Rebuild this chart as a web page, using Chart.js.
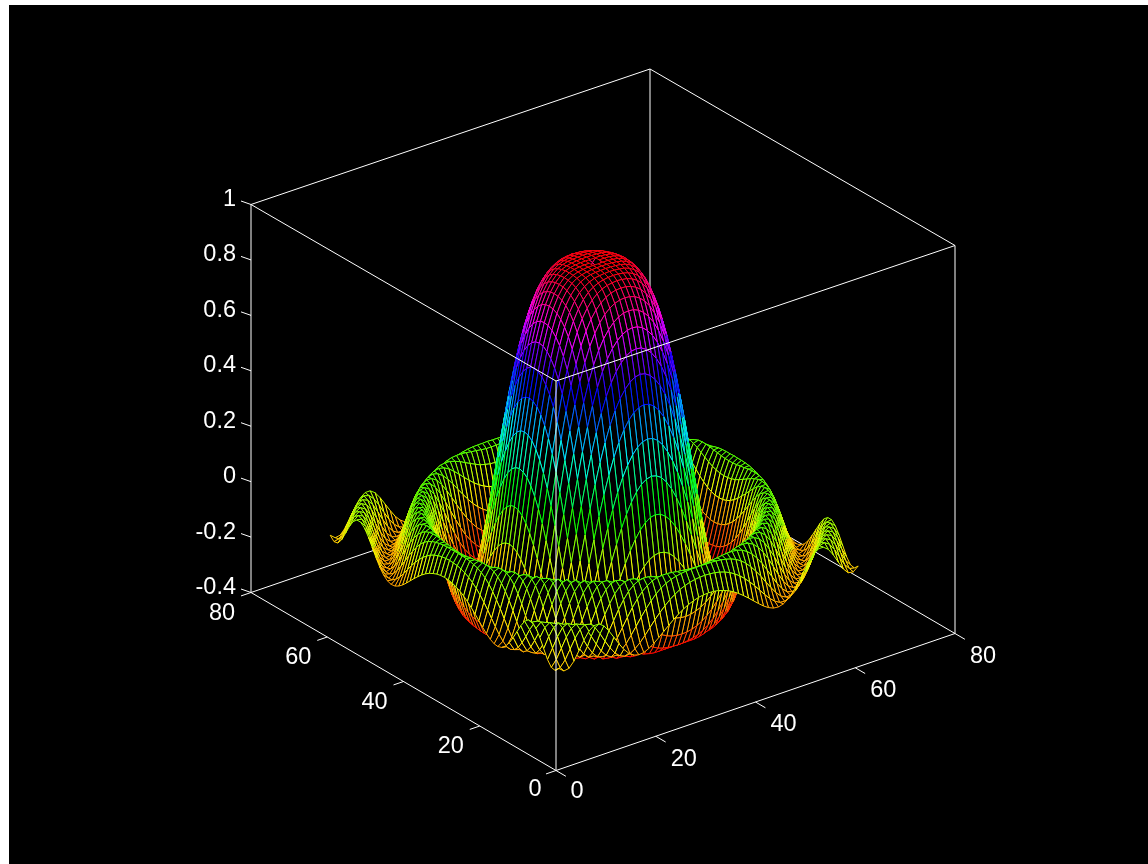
<!DOCTYPE html>
<html>
<head>
<meta charset="utf-8">
<title>mesh</title>
<script src="https://cdn.jsdelivr.net/npm/chart.js@4"></script>
<style>
    html, body { margin: 0; padding: 0; background: #fff; overflow: hidden; }
    #wrap { position: absolute; left: 9px; top: 5px; width: 1139px; height: 859px; background: #000; }
</style>
</head>
<body>
<div id="wrap"><canvas id="myChart" width="1139" height="859"></canvas></div>
<script>
// tick labels of the three axes
const xTicks = [0, 20, 40, 60, 80];
const yTicks = [0, 20, 40, 60, 80];
const zTicks = [-0.4, -0.2, 0, 0.2, 0.4, 0.6, 0.8, 1];
const zTickLabels = ['-0.4', '-0.2', '0', '0.2', '0.4', '0.6', '0.8', '1'];

// grid of the surface, first line nudged a bit to sit where the picture has it
const xFirst = 0.9;
const yFirst = 0.4;
const gridSize = 61;

// surface height in thousandths. The surface is round,
// so only one eighth is kept: row = steps from the centre, column = steps across.
// null is the small hole on top of the dome
const heightRows = [
    [null],
    [1000, 1000],
    [1000, 1000, 999],
    [999, 998, 997, 995],
    [996, 995, 993, 990, 983],
    [990, 989, 986, 981, 972, 959],
    [979, 977, 974, 967, 956, 939, 916],
    [960, 959, 954, 945, 931, 911, 884, 847],
    [933, 931, 925, 914, 897, 873, 841, 800, 748],
    [894, 892, 884, 870, 850, 823, 787, 741, 685, 617],
    [841, 838, 829, 813, 790, 759, 719, 669, 608, 537, 455],
    [773, 770, 759, 741, 715, 681, 637, 583, 520, 446, 363, 273],
    [689, 685, 673, 653, 625, 588, 541, 485, 420, 346, 265, 178, 90],
    [588, 583, 571, 550, 520, 481, 433, 376, 311, 239, 162, 82, 4, -70],
    [472, 468, 455, 433, 402, 363, 316, 260, 198, 131, 61, -9, -75, -133, -179],
    [346, 341, 329, 307, 277, 239, 194, 142, 86, 27, -33, -91, -141, -182, -208, -217],
    [215, 211, 198, 178, 150, 115, 75, 30, -18, -67, -114, -156, -189, -211, -217, -207, -179],
    [86, 82, 72, 54, 30, 1, -33, -70, -107, -143, -175, -200, -214, -216, -204, -177, -136, -83],
    [-30, -33, -42, -56, -75, -98, -123, -149, -173, -194, -210, -217, -214, -198, -170, -130, -80, -25, 30],
    [-125, -127, -133, -143, -156, -171, -186, -200, -211, -217, -216, -206, -187, -157, -117, -70, -18, 33, 78, 112],
    [-189, -190, -194, -199, -205, -211, -215, -217, -215, -207, -192, -169, -137, -98, -53, -5, 42, 83, 113, 128, 124],
    [-216, -217, -217, -217, -217, -214, -209, -201, -187, -167, -142, -110, -72, -30, 14, 55, 91, 116, 128, 123, 101, 64],
    [-205, -204, -202, -198, -192, -183, -170, -153, -131, -105, -73, -38, -1, 37, 73, 102, 121, 128, 121, 98, 62, 19, -26],
    [-158, -157, -153, -146, -136, -122, -105, -83, -58, -30, 1, 33, 64, 92, 114, 126, 127, 116, 91, 56, 14, -28, -64, -86],
    [-87, -85, -80, -72, -60, -45, -27, -5, 18, 43, 68, 91, 110, 123, 128, 123, 107, 81, 46, 6, -34, -67, -87, -90, -75],
    [-5, -4, 1, 9, 20, 33, 49, 65, 83, 99, 114, 124, 128, 125, 114, 94, 65, 31, -7, -43, -72, -89, -90, -74, -44, -5],
    [68, 69, 73, 78, 86, 95, 104, 114, 121, 127, 128, 125, 115, 98, 74, 45, 11, -23, -54, -78, -90, -88, -71, -41, -4, 33, 60],
    [116, 116, 118, 121, 123, 126, 128, 128, 126, 120, 109, 94, 73, 48, 19, -12, -42, -67, -85, -91, -85, -65, -35, 1, 36, 61, 71, 62],
    [128, 127, 127, 126, 124, 120, 115, 107, 96, 81, 62, 40, 16, -11, -37, -61, -80, -90, -90, -78, -56, -25, 9, 41, 63, 71, 61, 36, 2],
    [101, 100, 98, 94, 88, 80, 69, 56, 40, 22, 2, -20, -42, -62, -78, -89, -91, -84, -68, -43, -13, 20, 48, 66, 71, 59, 34, 1, -32, -53],
    [46, 45, 42, 36, 29, 19, 7, -7, -22, -38, -54, -69, -81, -89, -91, -86, -73, -53, -26, 3, 32, 56, 69, 69, 55, 29, -3, -34, -54, -57, -42]
];

// axis ranges
const axisMax = 80;
const zBottom = -0.4;
const zTop = 1;

// view of the box: where the corner sits and how far one unit moves on the page.
// the picture has a little perspective, z gets shorter towards the back corner
const view = {
    originX: 556, originY: 770.5,
    xUnit: [4.9875, -1.7125],
    yUnit: [-3.8125, -2.225],
    zUnit: 278.2,
    zShrink: 0.0133
};

function project(x, y, z) {
    var zPixels = view.zUnit - view.zShrink * (x + y);
    return {
        x: view.originX + x * view.xUnit[0] + y * view.yUnit[0],
        y: view.originY + x * view.xUnit[1] + y * view.yUnit[1] - (z - zBottom) * zPixels
    };
}

function heightAt(ix, iy) {
    const centre = (gridSize - 1) / 2;
    const a = Math.abs(ix - centre);
    const b = Math.abs(iy - centre);
    const h = heightRows[Math.max(a, b)][Math.min(a, b)];
    return h === null ? null : h / 1000;
}

// colormap hsv stretched over the height range of the surface
function meshColor(z) {
    let t = (z + 0.217) / 1.217;
    if (t < 0) t = 0;
    if (t > 1) t = 1;
    return 'hsl(' + (t * 358) + ',100%,50%)';
}

function lineSet(points) {
    return {
        data: points,
        showLine: true,
        borderColor: '#fff',
        borderWidth: 1,
        pointRadius: 0,
        fill: false
    };
}

var datasets = [];

// first dataset is drawn last, so: box lines in front, then mesh, then the back lines
function edge(a, b) {
    return lineSet([project(a[0], a[1], a[2]), project(b[0], b[1], b[2])]);
}
datasets.push(edge([0, 0, zBottom], [axisMax, 0, zBottom]));
datasets.push(edge([0, 0, zBottom], [0, axisMax, zBottom]));
datasets.push(edge([0, 0, zBottom], [0, 0, zTop]));
datasets.push(edge([0, axisMax, zBottom], [0, axisMax, zTop]));
datasets.push(edge([axisMax, 0, zBottom], [axisMax, 0, zTop]));
datasets.push(edge([0, 0, zTop], [axisMax, 0, zTop]));
datasets.push(edge([0, 0, zTop], [0, axisMax, zTop]));

// tick marks
for (var t = 0; t < xTicks.length; t++) {
    datasets.push(edge([xTicks[t], 0, zBottom], [xTicks[t], -2.6, zBottom]));
    datasets.push(edge([0, yTicks[t], zBottom], [-2, yTicks[t], zBottom]));
}
for (var t = 0; t < zTicks.length; t++) {
    var p0 = project(0, axisMax, zTicks[t]);
    datasets.push(lineSet([p0, { x: p0.x - 10, y: p0.y - 3.5 }]));
}

// mesh faces, nearest corner first. One set draws the wires, the next one
// fills the face black so it hides what is behind it.
// each wire takes the colour of the vertex it starts from
function wireColor(ctx) {
    return ctx.chart.data.datasets[ctx.datasetIndex].wireColors[ctx.p0DataIndex];
}

for (var i = 0; i < gridSize - 1; i++) {
    for (var j = 0; j < gridSize - 1; j++) {
        var z00 = heightAt(i, j), z10 = heightAt(i + 1, j);
        var z11 = heightAt(i + 1, j + 1), z01 = heightAt(i, j + 1);
        if (z00 === null || z10 === null || z11 === null || z01 === null) continue;
        var x0 = xFirst + i, y0 = yFirst + j;
        var corners = [
            project(x0, y0, z00),
            project(x0 + 1, y0, z10),
            project(x0 + 1, y0 + 1, z11),
            project(x0, y0 + 1, z01),
            project(x0, y0, z00)
        ];
        datasets.push({
            data: corners,
            showLine: true,
            borderColor: meshColor(z00),
            borderWidth: 1,
            borderJoinStyle: 'round',
            wireColors: [meshColor(z00), meshColor(z10), meshColor(z01), meshColor(z00)],
            segment: { borderColor: wireColor },
            fill: false,
            pointRadius: 0
        });
        datasets.push({
            data: corners,
            showLine: true,
            borderWidth: 0,
            backgroundColor: '#000',
            fill: 'shape',
            pointRadius: 0
        });
    }
}

// back of the box
datasets.push(edge([axisMax, axisMax, zBottom], [axisMax, axisMax, zTop]));
datasets.push(edge([0, axisMax, zTop], [axisMax, axisMax, zTop]));
datasets.push(edge([axisMax, 0, zTop], [axisMax, axisMax, zTop]));
datasets.push(edge([0, axisMax, zBottom], [axisMax, axisMax, zBottom]));
datasets.push(edge([axisMax, 0, zBottom], [axisMax, axisMax, zBottom]));

// tick labels, written next to the projected tick position
const tickText = {
    id: 'tickText',
    afterDraw: function (chart) {
        var ctx = chart.ctx;
        var sx = chart.scales.x, sy = chart.scales.y;
        function put(text, p, dx, dy, align) {
            ctx.textAlign = align;
            ctx.fillText(text, sx.getPixelForValue(p.x + dx), sy.getPixelForValue(p.y + dy));
        }
        ctx.save();
        ctx.fillStyle = '#fff';
        ctx.font = '23.5px "Liberation Sans", Arial, sans-serif';
        ctx.textBaseline = 'middle';
        for (var n = 0; n < zTicks.length; n++) {
            put(zTickLabels[n], project(0, axisMax, zTicks[n]), -15, -5, 'right');
        }
        for (var n = 0; n < xTicks.length; n++) {
            var wide = xTicks[n] > 0;
            put(String(xTicks[n]), project(xTicks[n], 0, zBottom), wide ? 28 : 21, wide ? 23 : 21, 'center');
            put(String(yTicks[n]), project(0, yTicks[n], zBottom), wide ? -29 : -21, wide ? 21 : 19, 'center');
        }
        ctx.restore();
    }
};

const ctx = document.getElementById('myChart').getContext('2d');
const myChart = new Chart(ctx, {
    type: 'scatter',
    data: { datasets: datasets },
    options: {
        responsive: false,
        animation: false,
        events: [],
        layout: { padding: 0 },
        elements: { line: { tension: 0 } },
        plugins: { legend: { display: false }, tooltip: { enabled: false } },
        scales: {
            x: { type: 'linear', display: false, min: 9, max: 1148 },
            y: { type: 'linear', display: false, min: 5, max: 864, reverse: true }
        }
    },
    plugins: [tickText]
});
</script>
</body>
</html>
